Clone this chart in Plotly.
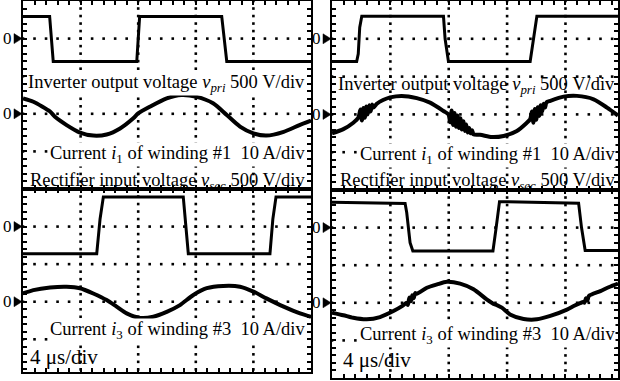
import numpy as np
import plotly.graph_objects as go

# Scope settings: 4 us/div, 500 V/div, 10 A/div
US_PER_DIV = 4.0
V_PER_DIV = 500.0
A_PER_DIV = 10.0

# ---------- operating point A (left column) ----------
# inverter output voltage v_pri [us, V]
a_vpri_t = [0.0, 1.85, 2.10, 7.90, 8.10, 13.80, 14.15, 20.0]
a_vpri_v = [295, 295, -305, -305, 295, 295, -305, -305]
# winding #1 current i1 [us, A]
a_i1_t = [0.0, 0.72, 1.88, 2.22, 3.03, 3.96, 4.88, 5.81, 6.74, 7.66, 8.0, 8.82, 9.98,
          11.0, 12.06, 13.2, 14.15, 15.07, 16.0, 16.9, 18.1, 19.2, 20.0]
a_i1_a = [4.1, 3.2, 0.6, -0.8, -3.0, -5.0, -5.8, -5.5, -3.9, -1.2, 0.1, 1.9, 4.1,
          5.0, 4.5, 2.8, -0.3, -3.4, -5.2, -5.8, -4.8, -3.0, -1.8]
# rectifier input voltage v_sec [us, V]
a_vsec_t = [0.0, 5.12, 5.35, 5.58, 11.13, 11.30, 11.48, 17.15, 17.35, 17.57, 20.0]
a_vsec_v = [-360, -360, 100, 395, 395, 20, -360, -360, 100, 395, 395]
# winding #3 current i3 [us, A]
a_i3_t = [0.0, 0.72, 1.88, 3.03, 3.96, 4.88, 5.81, 6.5, 7.2, 8.13, 9.05, 9.98, 10.9,
          11.83, 12.76, 13.9, 15.07, 16.0, 16.9, 18.1, 19.24, 20.0]
a_i3_a = [2.2, 3.1, 3.8, 4.0, 3.6, 2.2, 0.45, -1.3, -3.1, -4.3, -4.0, -2.7, -0.9,
          1.8, 3.6, 4.2, 4.0, 2.7, 0.9, -1.3, -3.1, -4.0]

# ---------- operating point B (right column) ----------
b_vpri_t = [0.0, 1.69, 1.80, 1.90, 2.04, 7.64, 7.75, 7.98, 13.58, 13.80, 14.04, 19.6]
b_vpri_v = [-300, -300, -200, 150, 297, 297, 0, -300, -300, 0, 297, 297]
b_i1_t = [0.0, 0.78, 1.46, 1.80, 1.95, 2.05, 2.15, 2.25, 2.35, 2.45, 2.55, 2.65, 2.75,
          2.85, 3.07, 3.5, 3.98, 4.78, 5.81, 6.72, 7.64, 7.98, 8.1, 8.2, 8.3, 8.4,
          8.5, 8.6, 8.7, 8.8, 8.9, 9.0, 9.1, 9.2, 9.3, 9.4, 9.5, 9.6, 9.7, 10.15,
          10.96, 11.76, 12.67, 13.3, 13.58, 13.7, 13.8, 13.9, 14.0, 14.1, 14.2, 14.3,
          14.4, 14.5, 14.6, 14.7, 14.96, 15.87, 16.79, 17.93, 18.85, 19.6]
b_i1_a = [-5.0, -3.9, -2.2, -0.9, 1.3, -1.6, 1.7, -0.9, 2.1, 0.0, 2.4, 0.8, 2.6,
          1.8, 2.8, 3.8, 4.5, 4.9, 4.3, 3.1, 0.9, 0.0, -2.1, 1.0, -2.8, 0.4,
          -3.3, -0.3, -3.6, -1.0, -4.0, -1.8, -4.4, -2.7, -4.8, -3.6, -5.0, -4.2, -5.3, -5.4,
          -6.0, -5.7, -4.4, -2.4, -1.3, 0.8, -2.2, 1.4, -1.4, 1.9, -0.4, 2.4,
          0.7, 2.8, 1.8, 3.2, 3.6, 4.7, 4.9, 4.0, 1.8, -0.3]
b_vsec_t = [0.0, 5.01, 5.12, 5.35, 5.54, 11.03, 11.25, 11.48, 16.9, 17.1, 17.35, 19.6]
b_vsec_v = [338, 322, 200, -200, -310, -310, 0, 345, 325, 0, -305, -305]
b_i3_t = [0.0, 0.78, 1.46, 2.38, 3.29, 4.21, 4.8, 5.12, 5.2, 5.3, 5.4, 5.5, 5.6, 5.7,
          5.81, 6.5, 7.2, 7.87, 8.78, 9.7, 10.6, 11.07, 11.3, 11.64, 12.2, 13.13,
          14.04, 14.96, 16.1, 16.6, 17.0, 17.2, 17.3, 17.4, 17.5, 17.6, 18.39, 19.0, 19.6]
b_i3_a = [-2.6, -3.3, -4.0, -4.4, -3.8, -2.2, -0.9, 0.0, -0.6, 1.4, 0.4, 2.0, 1.2, 2.6,
          2.4, 4.0, 4.9, 5.6, 5.1, 3.6, 0.9, -0.3, -0.6, -1.3, -3.1, -4.3,
          -4.4, -3.5, -1.8, -0.8, -0.1, 0.2, 0.0, 1.2, 0.6, 1.8, 3.1, 4.2, 5.1]

# text labels
lbl_vpri = "Inverter output voltage <i>v</i><sub><i>pri</i></sub> 500 V/div"
lbl_i1 = "Current <i>i</i><sub>1</sub> of winding #1  10 A/div"
lbl_vsec = "Rectifier input voltage <i>v</i><sub><i>sec</i></sub> 500 V/div"
lbl_i3 = "Current <i>i</i><sub>3</sub> of winding #3  10 A/div"
lbl_time = "4 \u03bcs/div"

W, H = 620, 381
SERIF = "Liberation Serif, Times New Roman, serif"
CLEAR = "rgba(0,0,0,0)"

# panel frames in pixels: left, right, top, bottom, divisions wide, divisions tall
panels = [
    dict(l=23, r=311, t=1, b=189, wd=5.0, hd=5.0,
         v=(a_vpri_t, a_vpri_v), i=(a_i1_t, a_i1_a)),
    dict(l=23, r=311, t=189, b=372, wd=5.0, hd=4.87,
         v=(a_vsec_t, a_vsec_v), i=(a_i3_t, a_i3_a)),
    dict(l=332, r=618, t=1, b=190, wd=4.9, hd=5.0,
         v=(b_vpri_t, b_vpri_v), i=(b_i1_t, b_i1_a)),
    dict(l=332, r=618, t=190, b=378, wd=4.9, hd=5.0,
         v=(b_vsec_t, b_vsec_v), i=(b_i3_t, b_i3_a)),
]

fig = go.Figure()
layout = {"annotations": [], "shapes": []}

for p, pan in enumerate(panels):
    xa = f"xaxis{p + 1}" if p else "xaxis"
    xr = f"x{p + 1}" if p else "x"
    gy, vy, iy = 3 * p + 1, 3 * p + 2, 3 * p + 3
    gya = f"yaxis{gy}" if gy > 1 else "yaxis"
    gyr = f"y{gy}" if gy > 1 else "y"
    xdom = [pan["l"] / W, pan["r"] / W]
    ydom = [(H - pan["b"]) / H, (H - pan["t"]) / H]
    tmax = pan["wd"] * US_PER_DIV
    hd = pan["hd"]

    frame = dict(showline=True, linecolor="black", linewidth=2, mirror="ticks",
                 ticks="inside", ticklen=4, tickwidth=1.5, tickcolor="black",
                 showticklabels=False, showgrid=False, zeroline=False, fixedrange=True)
    layout[xa] = dict(domain=xdom, range=[0, tmax], anchor=gyr, tick0=0,
                      dtick=US_PER_DIV / 5, **frame)
    layout[gya] = dict(domain=ydom, range=[-hd, 0], anchor=xr, tick0=0, dtick=0.2, **frame)
    # channel axes: voltage zero one division below top, current zero three divisions below
    layout[f"yaxis{vy}"] = dict(domain=ydom, overlaying=gyr, visible=False, anchor=xr,
                                range=[-(hd - 1) * V_PER_DIV, 1 * V_PER_DIV])
    layout[f"yaxis{iy}"] = dict(domain=ydom, overlaying=gyr, visible=False, anchor=xr,
                                range=[-(hd - 3) * A_PER_DIV, 3 * A_PER_DIV])

    # dotted graticule: one dot every fifth of a division on each major line
    gx, gyv = [], []
    for k in range(1, int(np.floor(pan["wd"] - 0.05)) + 1):
        ys = np.arange(0, -hd, -0.2)
        gx += [k * US_PER_DIV] * len(ys)
        gyv += list(ys)
    for k in range(1, int(np.floor(hd - 0.05)) + 1):
        xs = np.arange(0, tmax, US_PER_DIV / 5)
        gx += list(xs)
        gyv += [-k] * len(xs)
    fig.add_trace(go.Scatter(x=gx, y=gyv, mode="markers", xaxis=xr, yaxis=gyr,
                             marker=dict(size=2.6, color="black", symbol="square"),
                             hoverinfo="skip", showlegend=False))

    # waveforms
    fig.add_trace(go.Scatter(x=pan["v"][0], y=pan["v"][1], mode="lines",
                             xaxis=xr, yaxis=f"y{vy}",
                             line=dict(color="black", width=3), showlegend=False))
    fig.add_trace(go.Scatter(x=pan["i"][0], y=pan["i"][1], mode="lines",
                             xaxis=xr, yaxis=f"y{iy}",
                             line=dict(color="black", width=4, shape="spline", smoothing=0.7),
                             showlegend=False))

    # ground-level markers "0 ▶" left of the frame
    for lev in (-1, -3):
        ypx = pan["t"] + (-lev) * (pan["b"] - pan["t"]) / hd
        layout["annotations"].append(dict(
            text="0", xref="paper", yref="paper", x=(pan["l"] - 9) / W,
            y=(H - ypx) / H, xanchor="right", yanchor="middle", showarrow=False,
            font=dict(family=SERIF, size=17, color="black")))
        x0, x1 = (pan["l"] - 9) / W, (pan["l"] - 1) / W
        ya, yb, yc = (H - ypx - 5) / H, (H - ypx) / H, (H - ypx + 5) / H
        layout["shapes"].append(dict(
            type="path", xref="paper", yref="paper",
            path=f"M {x0},{ya} L {x1},{yb} L {x0},{yc} Z",
            fillcolor="black", line=dict(color="black", width=0.5)))


def label(text, xpx, ypx, size=18.5, anchor="right", bg="white"):
    layout["annotations"].append(dict(
        text=text, xref="paper", yref="paper", x=xpx / W, y=(H - ypx) / H,
        xanchor=anchor, yanchor="middle", showarrow=False, bgcolor=bg, borderpad=0,
        font=dict(family=SERIF, size=size, color="black")))


label(lbl_vpri, 306, 83)
label(lbl_i1, 306, 154)
label(lbl_vsec, 306, 181, bg=CLEAR)
label(lbl_i3, 306, 330)
label(lbl_time, 29, 357, size=21, anchor="left", bg=CLEAR)
label(lbl_vpri, 616, 85, bg=CLEAR)
label(lbl_i1, 616, 155)
label(lbl_vsec, 616, 181, bg=CLEAR)
label(lbl_i3, 616, 335)
label(lbl_time, 342, 360, size=21, anchor="left", bg=CLEAR)

fig.update_layout(width=W, height=H, margin=dict(l=0, r=0, t=0, b=0),
                  paper_bgcolor="white", plot_bgcolor="white", showlegend=False,
                  **layout)
fig.write_html("out.html")
